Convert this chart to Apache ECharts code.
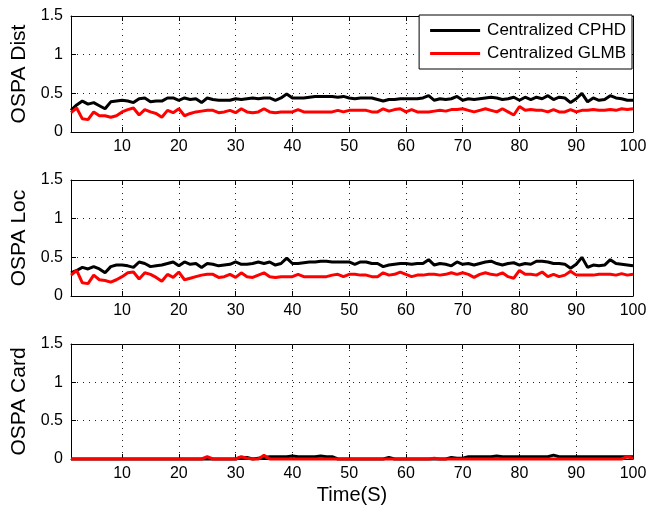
<!DOCTYPE html>
<html><head><meta charset="utf-8">
<script src="https://cdn.jsdelivr.net/npm/echarts@6/dist/echarts.min.js"></script>
<style>html,body{margin:0;padding:0;background:#fff}#c{width:652px;height:506px}</style>
</head><body><div id="c"></div>
<script>
const seriesNames = ['Centralized CPHD', 'Centralized GLMB'];
const panelNames = ['OSPA Dist', 'OSPA Loc', 'OSPA Card'];
const xTicks = [10,20,30,40,50,60,70,80,90,100];
const yTicks = [0, 0.5, 1, 1.5];
const distCPHD = [0.28,0.35,0.40,0.36,0.38,0.34,0.30,0.39,0.40,0.41, 0.40,0.38,0.43,0.44,0.39,0.40,0.40,0.44,0.44,0.41, 0.44,0.42,0.43,0.38,0.44,0.42,0.41,0.41,0.41,0.43, 0.42,0.43,0.44,0.43,0.44,0.44,0.41,0.44,0.49,0.44, 0.44,0.44,0.45,0.46,0.46,0.46,0.46,0.45,0.46,0.44,
 0.43,0.44,0.44,0.44,0.42,0.40,0.42,0.42,0.43,0.43, 0.43,0.43,0.44,0.47,0.41,0.43,0.42,0.43,0.46,0.41, 0.43,0.42,0.43,0.44,0.45,0.44,0.42,0.43,0.45,0.41, 0.45,0.42,0.45,0.43,0.47,0.42,0.45,0.44,0.38,0.43, 0.50,0.39,0.44,0.41,0.42,0.47,0.44,0.43,0.41,0.41];
const distGLMB = [0.25,0.31,0.17,0.16,0.26,0.21,0.21,0.19,0.21,0.26, 0.29,0.31,0.22,0.29,0.26,0.24,0.19,0.28,0.25,0.30, 0.21,0.24,0.26,0.27,0.28,0.28,0.25,0.26,0.28,0.25, 0.30,0.26,0.25,0.26,0.30,0.26,0.25,0.26,0.26,0.26, 0.29,0.26,0.26,0.26,0.26,0.26,0.26,0.28,0.26,0.28,
 0.28,0.28,0.28,0.26,0.26,0.30,0.27,0.29,0.30,0.26, 0.29,0.26,0.26,0.26,0.27,0.28,0.27,0.29,0.29,0.30, 0.28,0.26,0.28,0.30,0.28,0.26,0.30,0.26,0.22,0.33, 0.28,0.29,0.28,0.28,0.26,0.29,0.26,0.26,0.29,0.26, 0.28,0.28,0.29,0.28,0.28,0.29,0.28,0.30,0.29,0.30];
const locCPHD = [0.30,0.33,0.37,0.35,0.38,0.35,0.30,0.38,0.40,0.40, 0.39,0.37,0.44,0.42,0.38,0.39,0.40,0.42,0.44,0.39, 0.44,0.41,0.42,0.37,0.42,0.41,0.39,0.40,0.41,0.44, 0.41,0.41,0.42,0.44,0.42,0.44,0.40,0.42,0.49,0.42, 0.42,0.43,0.44,0.44,0.45,0.45,0.44,0.44,0.44,0.44,
 0.41,0.44,0.44,0.42,0.42,0.38,0.40,0.41,0.42,0.42, 0.41,0.42,0.42,0.47,0.40,0.42,0.41,0.39,0.44,0.41, 0.42,0.40,0.42,0.44,0.45,0.42,0.40,0.42,0.43,0.40, 0.42,0.41,0.45,0.45,0.44,0.42,0.42,0.41,0.36,0.41, 0.50,0.37,0.40,0.39,0.40,0.47,0.42,0.41,0.40,0.39];
const locGLMB = [0.27,0.33,0.17,0.16,0.27,0.21,0.20,0.18,0.21,0.25, 0.30,0.31,0.22,0.30,0.28,0.24,0.19,0.28,0.24,0.31, 0.21,0.23,0.25,0.27,0.28,0.28,0.24,0.25,0.28,0.24, 0.30,0.25,0.24,0.27,0.30,0.25,0.24,0.25,0.25,0.25, 0.28,0.25,0.25,0.25,0.25,0.25,0.27,0.28,0.25,0.28,
 0.28,0.27,0.27,0.25,0.25,0.30,0.27,0.28,0.31,0.28, 0.25,0.27,0.27,0.28,0.28,0.27,0.28,0.30,0.28,0.30, 0.28,0.24,0.28,0.30,0.28,0.27,0.30,0.25,0.23,0.33, 0.28,0.28,0.27,0.31,0.25,0.28,0.25,0.27,0.32,0.27, 0.27,0.27,0.27,0.28,0.28,0.28,0.27,0.29,0.27,0.28];
const cardCPHD = [0,0,0,0,0,0,0,0,0,0, 0,0,0,0,0,0,0,0,0,0, 0,0,0,0,0,0,0,0,0,0, 0.02,0.02,0,0.01,0.02,0.03,0.03,0.03,0.03,0.04, 0.03,0.03,0.03,0.03,0.04,0.03,0.03,0,0,0,
 0,0,0,0,0,0,0.02,0,0,0, 0,0,0,0,0,0,0,0.02,0.01,0.01, 0.03,0.03,0.03,0.03,0.03,0.04,0.03,0.03,0.03,0.03, 0.03,0.03,0.03,0.03,0.03,0.05,0.03,0.03,0.03,0.03, 0.03,0.03,0.03,0.03,0.03,0.03,0.03,0.03,0.03,0.03];
const cardGLMB = [0,0,0,0,0,0,0,0,0,0, 0,0,0,0,0,0,0,0,0,0, 0,0,0,0,0.03,0,0,0,0,0, 0.03,0.01,0,0,0.05,0,0,0,0,0, 0,0,0,0,0,0,0,0,0,0,
 0,0,0,0,0,0,0,0,0,0, 0,0,0,0,0.01,0,0,0,0,0, 0,0,0,0,0,0,0,0,0,0, 0,0,0,0,0,0,0,0,0,0, 0,0,0,0,0,0,0,0,0.03,0.01];
const steps = distCPHD.map((_, i) => i + 1);

const panels = [[distCPHD, distGLMB], [locCPHD, locGLMB], [cardCPHD, cardGLMB]];
const tops = [16, 180, 344];
const font = 'Liberation Sans, Arial, sans-serif';
const grid = [], xAxis = [], yAxis = [], series = [];
const dotted = {show: true, lineStyle: {color: '#222', width: 1, type: [1, 5]}};
tops.forEach((t, k) => {
  grid.push({left: 71, width: 562, top: t, height: 116, containLabel: false});
  xAxis.push({type: 'value', gridIndex: k, min: 1, max: 100, position: 'bottom',
    name: k === 2 ? 'Time(S)' : '', nameLocation: 'middle', nameGap: 26,
    nameTextStyle: {fontFamily: font, fontSize: 20, color: '#000'},
    axisLine: {show: true, onZero: false, lineStyle: {color: '#000', width: 1}},
    axisTick: {show: true, inside: true, length: 5, customValues: xTicks, lineStyle: {color: '#000'}},
    axisLabel: {show: true, customValues: xTicks, fontFamily: font, fontSize: 16, color: '#000', margin: 7},
    splitLine: {show: false}});
  xAxis.push({type: 'value', gridIndex: k, min: 1, max: 100, position: 'top',
    axisLine: {show: true, onZero: false, lineStyle: {color: '#000', width: 1}},
    axisTick: {show: true, inside: true, length: 5, customValues: xTicks, lineStyle: {color: '#000'}},
    axisLabel: {show: false}, splitLine: {show: false}});
  yAxis.push({type: 'value', gridIndex: k, min: 0, max: 1.5, interval: 0.5, position: 'left',
    name: panelNames[k], nameLocation: 'middle', nameGap: 38, nameRotate: 90,
    nameTextStyle: {fontFamily: font, fontSize: 21, color: '#000'},
    axisLine: {show: true, onZero: false, lineStyle: {color: '#000', width: 1}},
    axisTick: {show: true, inside: true, length: 5, lineStyle: {color: '#000'}},
    axisLabel: {fontFamily: font, fontSize: 16, color: '#000', margin: 8, formatter: v => String(v)},
    splitLine: dotted});
  yAxis.push({type: 'value', gridIndex: k, min: 0, max: 1.5, interval: 0.5, position: 'right',
    axisLine: {show: true, onZero: false, lineStyle: {color: '#000', width: 1}},
    axisTick: {show: true, inside: true, length: 5, lineStyle: {color: '#000'}},
    axisLabel: {show: false}, splitLine: {show: false}});
  const cols = ['#000', '#ff0000'];
  panels[k].forEach((arr, j) => {
    series.push({type: 'line', name: seriesNames[j], xAxisIndex: 2 * k, yAxisIndex: 2 * k,
      data: steps.map((s, i) => [s, arr[i]]), symbol: 'none', clip: false,
      lineStyle: {color: cols[j], width: 3}, itemStyle: {color: cols[j]}, z: 3 + j,
      markLine: j === 0 ? {silent: true, symbol: 'none', label: {show: false}, z: 1,
        lineStyle: {color: '#222', width: 1, type: [1, 5]},
        data: xTicks.filter(v => v < 100).map(v => ({xAxis: v}))} : undefined});
  });
});
const chart = echarts.init(document.getElementById('c'), null, {renderer: 'canvas'});
chart.setOption({
  animation: false,
  backgroundColor: '#fff',
  grid, xAxis, yAxis, series,
  legend: {data: seriesNames.map(n => ({name: n, icon: 'rect'})), orient: 'vertical', right: 20, top: 15,
    z: 50, zlevel: 1,
    backgroundColor: '#fff', borderColor: '#000', borderWidth: 1,
    padding: [7, 6, 7, 11], itemWidth: 50, itemHeight: 3, itemGap: 6,
    textStyle: {fontFamily: font, fontSize: 17, color: '#000', padding: [0, 0, 0, 2]}}
});
</script></body></html>
